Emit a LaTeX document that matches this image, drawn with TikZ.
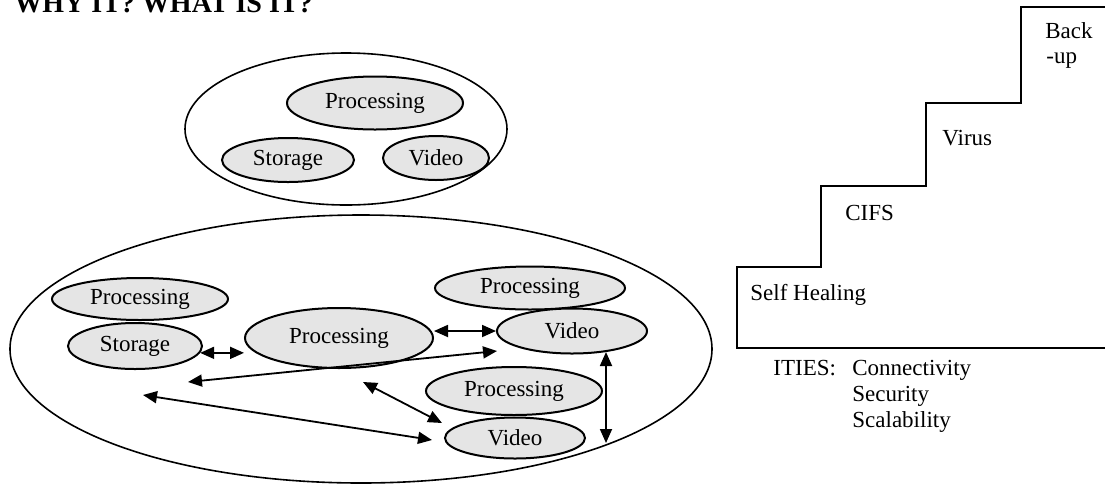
\documentclass[tikz,border=0pt]{standalone}
\usepackage{fontspec}
\setmainfont{Liberation Serif}
\usetikzlibrary{shapes.geometric,arrows.meta}
\begin{document}
\begin{tikzpicture}[x=0.5pt,y=-0.5pt,
  ell/.style={ellipse,draw,line width=1pt,fill=gray!20,inner sep=0pt,font=\fontsize{11.5}{13}\selectfont},
  big/.style={ellipse,draw,line width=0.8pt,inner sep=0pt},
  link/.style={line width=0.9pt,{Triangle[length=7pt,width=6pt]}-{Triangle[length=7pt,width=6pt]}},
  lbl/.style={font=\fontsize{11.5}{13}\selectfont,inner sep=0pt,anchor=base west}]
\useasboundingbox (0,0) rectangle (1105,484);
\clip (0,0) rectangle (1105,484);
% title (cut by the top edge, as in the reference)
\node[font=\bfseries\fontsize{14}{16}\selectfont,inner sep=0pt,anchor=base west] (title) at (14,12) {WHY IT? WHAT IS IT?};
% top group
\node[big,minimum width=161pt,minimum height=76pt] (topgrp) at (346,129) {};
\node[ell,minimum width=88pt,minimum height=26.5pt] (topP) at (375,103) {Processing};
\node[ell,minimum width=66pt,minimum height=22pt] (topS) at (288,160) {Storage};
\node[ell,minimum width=53pt,minimum height=22pt] (topV) at (436,158) {Video};
% bottom group
\node[big,minimum width=351pt,minimum height=134pt] (botgrp) at (361,349) {};
\node[ell,minimum width=88pt,minimum height=21pt] (p1) at (140,299) {Processing};
\node[ell,minimum width=67pt,minimum height=23pt] (s1) at (135,346) {Storage};
\node[ell,minimum width=94pt,minimum height=30pt] (pc) at (339,338) {Processing};
\node[ell,minimum width=95pt,minimum height=21.5pt] (p2) at (530,288) {Processing};
\node[ell,minimum width=75pt,minimum height=22.5pt] (v1) at (572,331) {Video};
\node[ell,minimum width=88pt,minimum height=24pt] (p3) at (514,391) {Processing};
\node[ell,minimum width=70pt,minimum height=20.5pt] (v2) at (515,438) {Video};
% free arrow ends
\coordinate (c3a) at (188,382);
\coordinate (c3b) at (497,351);
\coordinate (c4a) at (143,395);
\coordinate (c4b) at (432,440);
\coordinate (c5a) at (363,382);
\coordinate (c5b) at (442,423);
\coordinate (c6a) at (606,352);
\coordinate (c6b) at (606,443);
% arrows
\draw[link] (s1.-6) -- (s1.-6 -| pc.west);
\draw[link] (pc.east |- v1.west) -- (v1.west);
\draw[link] (c3a) -- (c3b);
\draw[link] (c4a) -- (c4b);
\draw[link] (c5a) -- (c5b);
\draw[link] (c6a) -- (c6b);
% stairs
\draw[line width=0.8pt] (1105,348) -- (737,348) -- (737,267) -- (821,267) -- (821,186)
  -- (926,186) -- (926,103) -- (1021,103) -- (1021,7) -- (1105,7);
\node[lbl] (back) at (1045,38) {Back};
\node[lbl] (up) at (1046,63) {-up};
\node[lbl] (virus) at (942,145) {Virus};
\node[lbl] (cifs) at (845,220) {CIFS};
\node[lbl] (self) at (750,300) {Self Healing};
\node[lbl] (ities) at (773,375) {ITIES:};
\node[lbl] (conn) at (852,375) {Connectivity};
\node[lbl] (secu) at (852,401) {Security};
\node[lbl] (scal) at (852,427) {Scalability};
\end{tikzpicture}
\end{document}
